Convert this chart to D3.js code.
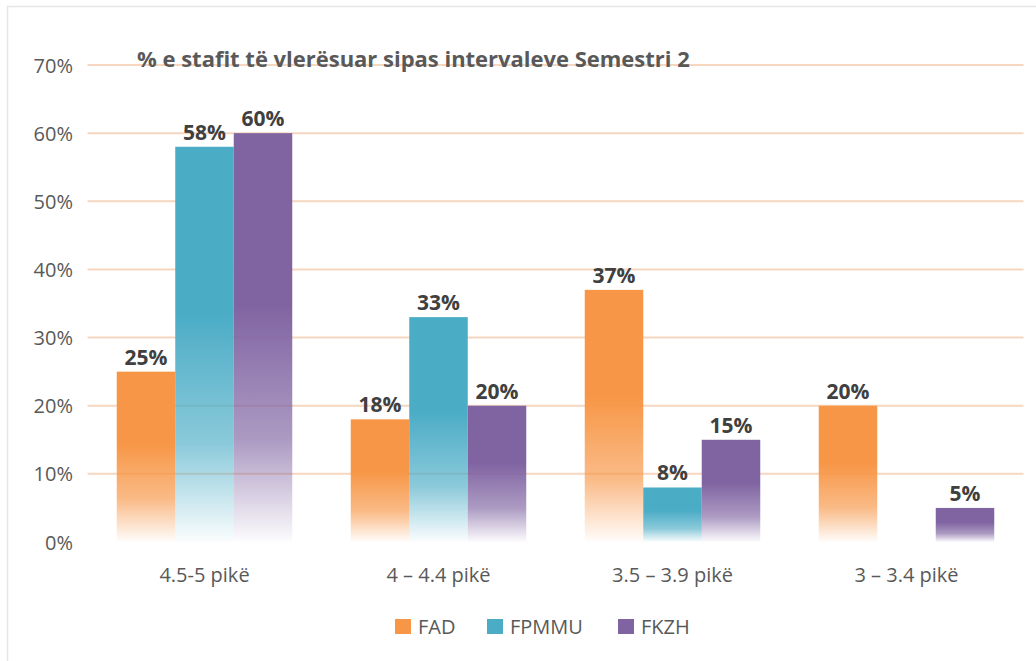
<!DOCTYPE html>
<html><head><meta charset="utf-8">
<script src="https://cdn.jsdelivr.net/npm/d3@7"></script>
<style>body{margin:0;background:#fff}svg{display:block}</style>
</head><body>
<svg id="c" width="1036" height="661"></svg>
<script>
const categories = ["4.5-5 pikë", "4 – 4.4 pikë", "3.5 – 3.9 pikë", "3 – 3.4 pikë"];
const seriesNames = ["FAD", "FPMMU", "FKZH"];
const FAD = [25, 18, 37, 20];
const FPMMU = [58, 33, 8, null];
const FKZH = [60, 20, 15, 5];
const yTicks = [0, 10, 20, 30, 40, 50, 60, 70];
const colors = ["#F79646", "#4BACC6", "#8064A2"];
const title = "% e stafit të vlerësuar sipas intervaleve Semestri 2";

const seriesValues = [FAD, FPMMU, FKZH];
const font = "'Open Sans', sans-serif";
const svg = d3.select("#c");

// frame
svg.append("line").attr("x1", 7).attr("x2", 1036).attr("y1", 6.5).attr("y2", 6.5).attr("stroke", "#e6e6e6").attr("stroke-width", 1.5);
svg.append("line").attr("x1", 7.5).attr("x2", 7.5).attr("y1", 6).attr("y2", 661).attr("stroke", "#e6e6e6").attr("stroke-width", 1.5);

const x0 = d3.scaleBand().domain(categories).range([87.5, 1023.5]).paddingInner(0.25).paddingOuter(0.125);
const x1 = d3.scaleBand().domain(seriesNames).range([0, x0.bandwidth()]);
const y = d3.scaleLinear().domain([0, 70]).range([542, 65]);

const defs = svg.append("defs");
colors.forEach((c, i) => {
  const g = defs.append("linearGradient").attr("id", "g" + i).attr("x1", 0).attr("y1", 0).attr("x2", 0).attr("y2", 1);
  g.append("stop").attr("offset", "0").attr("stop-color", c);
  g.append("stop").attr("offset", "0.42").attr("stop-color", c);
  g.append("stop").attr("offset", "0.75").attr("stop-color", c).attr("stop-opacity", 0.65);
  g.append("stop").attr("offset", "1").attr("stop-color", c).attr("stop-opacity", 0.02);
});

// grid
svg.append("g").selectAll("line").data(yTicks.filter(t => t > 0)).join("line")
  .attr("x1", 87.5).attr("x2", 1023.5)
  .attr("y1", d => y(d)).attr("y2", d => y(d))
  .attr("stroke", "#F6D6BF").attr("stroke-width", 2);

// y axis labels
const yAxis = d3.axisLeft(y).tickValues(yTicks).tickFormat(d => d + "%").tickSize(0).tickPadding(0);
const ya = svg.append("g").attr("transform", "translate(73,0)").call(yAxis);
ya.select(".domain").remove();
ya.selectAll("text").attr("font-family", font).attr("font-size", 20).attr("fill", "#595959").attr("dy", "0.35em");

// title
const t = svg.append("text").attr("x", 137).attr("y", 67).text(title)
  .attr("font-family", font).attr("font-size", 20).attr("font-weight", "bold").attr("fill", "#595959");
const tw = t.node().getComputedTextLength();
t.attr("font-size", 20 * 553 / tw);

// bars
const groups = svg.append("g").selectAll("g").data(categories).join("g")
  .attr("transform", d => `translate(${x0(d)},0)`);
seriesNames.forEach((s, si) => {
  groups.each(function(cat, ci) {
    const v = seriesValues[si][ci];
    if (v == null) return;
    const g = d3.select(this);
    g.append("rect").attr("x", x1(s)).attr("width", x1.bandwidth())
      .attr("y", y(v)).attr("height", y(0) - y(v)).attr("fill", `url(#g${si})`);
    g.append("text").attr("x", x1(s) + x1.bandwidth() / 2).attr("y", y(v) - 7)
      .attr("text-anchor", "middle").text(v + "%")
      .attr("font-family", font).attr("font-size", 21).attr("font-weight", "bold").attr("fill", "#404040");
  });
});

// x axis labels
const xa = svg.append("g").attr("transform", "translate(0,575)")
  .call(d3.axisBottom(x0).tickSize(0).tickPadding(0));
xa.select(".domain").remove();
xa.selectAll("text").attr("font-family", font).attr("font-size", 20).attr("fill", "#595959").attr("dy", "0.35em");

// legend
const legendX = [395, 487, 618];
const lg = svg.append("g").selectAll("g").data(seriesNames).join("g")
  .attr("transform", (d, i) => `translate(${legendX[i]},627)`);
lg.append("rect").attr("x", 0).attr("y", -8).attr("width", 16).attr("height", 15).attr("fill", (d, i) => colors[i]);
lg.append("text").attr("x", 23).attr("y", 0).attr("dy", "0.35em").text(d => d)
  .attr("font-family", font).attr("font-size", 20).attr("fill", "#595959");
</script>
</body></html>
